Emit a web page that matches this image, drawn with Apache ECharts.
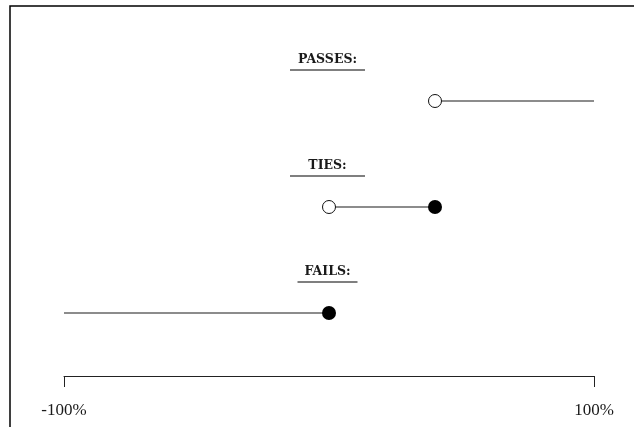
<!DOCTYPE html>
<html>
<head>
<meta charset="utf-8">
<script src="https://cdn.jsdelivr.net/npm/echarts@6/dist/echarts.min.js"></script>
<style>
html,body{margin:0;padding:0;background:#fff;}
#chart{width:634px;height:427px;}
</style>
</head>
<body>
<div id="chart"></div>
<script>
// ---- data ----
var categories = ['PASSES:', 'TIES:', 'FAILS:'];
var startValues = [40, 0, -100];
var endValues = [100, 40, 0];
var startMarkers = ['open', 'open', 'none'];
var endMarkers = ['none', 'filled', 'filled'];
var tickValues = [-100, 100];
var tickSuffix = '%';

// ---- styles ----
var underlineWidths = [75, 75, 60];
var serif = '"Liberation Serif", "Times New Roman", serif';
var headingFont = 'bold 12.5px "DejaVu Serif", serif';

function markerItem(value, row, kind) {
  var item = { value: [value, row] };
  if (kind === 'none') {
    item.symbol = 'none';
  } else if (kind === 'open') {
    item.symbol = 'circle';
    item.symbolSize = 13;
    item.itemStyle = { color: '#fff', borderColor: '#111', borderWidth: 1 };
  } else {
    item.symbol = 'circle';
    item.symbolSize = 14;
    item.itemStyle = { color: '#000', borderColor: '#000', borderWidth: 0 };
  }
  return item;
}

var series = categories.map(function (cat, i) {
  return {
    type: 'line',
    name: cat,
    data: [markerItem(startValues[i], cat, startMarkers[i]), markerItem(endValues[i], cat, endMarkers[i])],
    lineStyle: { color: '#1a1a1a', width: 1.2 },
    showSymbol: true,
    showAllSymbol: true,
    silent: true,
    z: 3
  };
});

series.push({
  type: 'custom',
  silent: true,
  data: categories.map(function (c, i) { return [0, i]; }),
  renderItem: function (params, api) {
    var idx = params.dataIndex;
    var p = api.coord([0, categories[idx]]);
    var cx = p[0] - 1.5;
    var w = underlineWidths[idx];
    return {
      type: 'group',
      children: [
        {
          type: 'text',
          style: {
            text: categories[idx],
            x: cx, y: p[1] - 41,
            align: 'center', verticalAlign: 'middle',
            font: headingFont,
            fill: '#1a1a1a'
          }
        },
        {
          type: 'line',
          shape: { x1: cx - w / 2, y1: p[1] - 31, x2: cx + w / 2, y2: p[1] - 31 },
          style: { stroke: '#555', lineWidth: 1.5 }
        }
      ]
    };
  }
});

var chart = echarts.init(document.getElementById('chart'), null, { renderer: 'canvas' });
chart.setOption({
  animation: false,
  backgroundColor: '#fff',
  grid: { left: 64, right: 40, top: 48, height: 318 },
  xAxis: {
    type: 'value',
    min: tickValues[0],
    max: tickValues[tickValues.length - 1],
    interval: tickValues[1] - tickValues[0],
    offset: 10,
    axisLine: { show: true, lineStyle: { color: '#222', width: 1 } },
    axisTick: { show: true, length: 11, lineStyle: { color: '#222', width: 1 } },
    splitLine: { show: false },
    axisLabel: {
      margin: 26,
      fontFamily: serif,
      fontSize: 17,
      color: '#1a1a1a',
      formatter: function (v) { return v + tickSuffix; }
    }
  },
  yAxis: {
    type: 'category',
    data: categories,
    inverse: true,
    show: false
  },
  graphic: [
    {
      type: 'polyline',
      silent: true,
      shape: { points: [[10, 427], [10, 6], [634, 6]] },
      style: { stroke: '#000', lineWidth: 1.5, fill: null }
    }
  ],
  series: series
});
</script>
</body>
</html>
